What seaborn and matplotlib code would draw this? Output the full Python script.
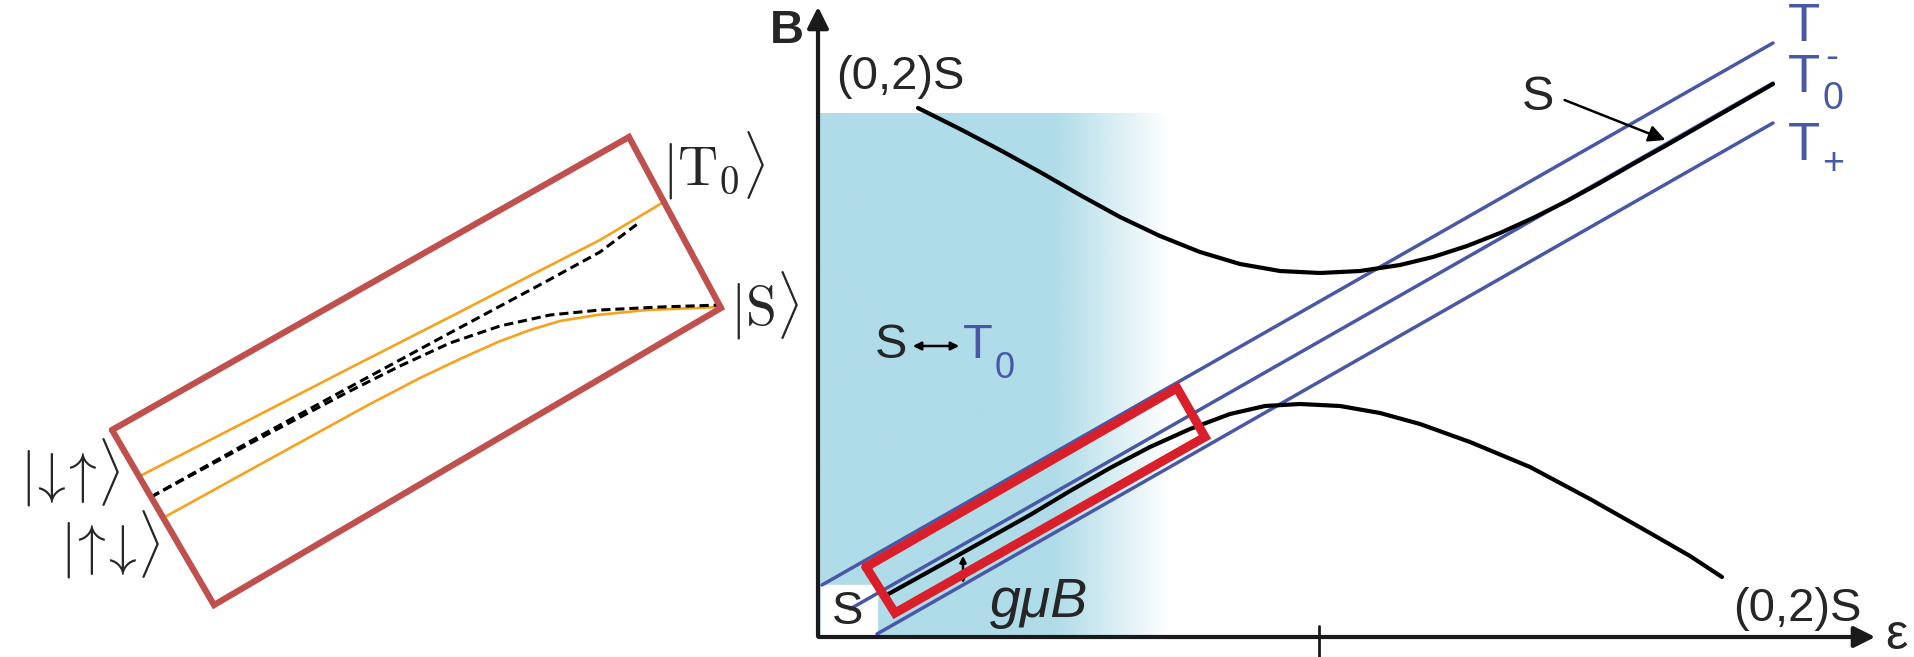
import numpy as np
import matplotlib
matplotlib.use('Agg')
import matplotlib.pyplot as plt
import seaborn as sns

# ---- left panel: rotated box with the two branches (pixel coords of the picture) ----
box_x = [112, 629, 721, 214, 112]
box_y = [430, 137, 308, 605, 430]

orange_up_x = [140, 249, 348, 448, 547, 600, 662]
orange_up_y = [476, 420, 369, 318, 267, 240, 203]
orange_lo_x = [163, 230, 299, 370, 420, 460, 498, 530, 560, 597, 647, 721]
orange_lo_y = [518, 481, 443, 404, 378, 359, 342, 330, 321, 315, 310, 307]

dash_up_x = [151, 249, 348, 448, 547, 600, 640]
dash_up_y = [497, 442, 388, 334, 281, 252, 222]
dash_lo_x = [151, 249, 348, 400, 450, 500, 550, 600, 660, 721]
dash_lo_y = [497, 444, 392, 366, 343, 326, 315, 310, 307, 305]

# ---- right panel: energy diagram ----
tminus_x, tminus_y = [822, 1773], [585, 43]
tzero_x, tzero_y = [850, 1773], [609, 83]
tplus_x, tplus_y = [877, 1773], [634, 123]

s_upper_x = [918, 960, 1000, 1040, 1080, 1120, 1160, 1200, 1240, 1280, 1320, 1360,
             1400, 1433, 1467, 1500, 1533, 1567, 1600, 1633, 1667, 1700, 1733, 1773]
s_upper_y = [108, 129, 150, 172, 195, 217, 236, 252, 264, 271, 273, 271,
             265, 257, 246, 233, 218, 201, 183, 164, 145, 126, 107, 84]

s_lower_x = [883, 930, 980, 1030, 1070, 1110, 1150, 1190, 1230, 1265, 1300, 1340,
             1380, 1420, 1470, 1530, 1590, 1650, 1690, 1722]
s_lower_y = [597, 571, 543, 515, 491, 468, 447, 429, 414, 406, 404, 406,
             413, 424, 442, 467, 499, 533, 556, 577]

red_x = [866, 1177, 1205, 895, 866]
red_y = [567, 388, 437, 613, 567]

W, H = 1915, 657
fig = plt.figure(figsize=(W / 100, H / 100), dpi=100)
ax = fig.add_axes([0, 0, 1, 1])
sns.set_style('white')
plt.rcParams['font.family'] = ['Liberation Sans', 'DejaVu Sans']
plt.rcParams['mathtext.fontset'] = 'cm'

# blue shaded region fading to white
gx = np.linspace(818, 1175, 500)
alpha = np.clip((1170 - gx) / (1170 - 1055), 0, 1)
img = np.zeros((1, len(gx), 4))
img[..., :3] = matplotlib.colors.to_rgb('#afdce8')
img[0, :, 3] = alpha
ax.imshow(img, extent=(818, 1175, 637, 113), aspect='auto', interpolation='bilinear', zorder=0)
ax.add_patch(plt.Rectangle((821, 585), 56, 52, color='white', zorder=1))

# left panel
sns.lineplot(x=box_x, y=box_y, sort=False, estimator=None, ax=ax, color='#c0504d', linewidth=4.5,
             solid_joinstyle='miter', zorder=3)
sns.lineplot(x=orange_up_x, y=orange_up_y, sort=False, estimator=None, ax=ax, color='#f7a21b', linewidth=1.9, zorder=2)
sns.lineplot(x=orange_lo_x, y=orange_lo_y, sort=False, estimator=None, ax=ax, color='#f7a21b', linewidth=1.9, zorder=2)
ax.plot(dash_up_x, dash_up_y, color='black', linewidth=2.2, dashes=(3, 1.6), zorder=2)
ax.plot(dash_lo_x, dash_lo_y, color='black', linewidth=2.2, dashes=(3, 1.6), zorder=2)

ax.text(714, 166, r'$|\mathrm{T}_0\rangle$', fontsize=40, ha='center', va='center')
ax.text(764, 306, r'$|\mathrm{S}\rangle$', fontsize=40, ha='center', va='center')
ax.text(70, 473, r'$|\!\downarrow\!\!\uparrow\!\rangle$', fontsize=40, ha='center', va='center')
ax.text(110, 545, r'$|\!\uparrow\!\!\downarrow\!\rangle$', fontsize=40, ha='center', va='center')

# right panel lines
blue = '#4858a6'
for lx, ly in [(tminus_x, tminus_y), (tzero_x, tzero_y), (tplus_x, tplus_y)]:
    sns.lineplot(x=lx, y=ly, sort=False, estimator=None, ax=ax, color=blue, linewidth=2.5, zorder=2)
sns.lineplot(x=s_upper_x, y=s_upper_y, sort=False, estimator=None, ax=ax, color='black', linewidth=3, zorder=3)
sns.lineplot(x=s_lower_x, y=s_lower_y, sort=False, estimator=None, ax=ax, color='black', linewidth=3, zorder=3)
sns.lineplot(x=red_x, y=red_y, sort=False, estimator=None, ax=ax, color='#d9202a', linewidth=6.5,
             solid_joinstyle='miter', zorder=4)

# axes arrows
ax.annotate('', xy=(818, 4), xytext=(818, 639),
            arrowprops=dict(arrowstyle='-|>', lw=3, color='#1a1a1a', mutation_scale=32), zorder=5)
ax.annotate('', xy=(1878, 637), xytext=(816, 637),
            arrowprops=dict(arrowstyle='-|>', lw=3, color='#1a1a1a', mutation_scale=32), zorder=5)
ax.plot([1319, 1319], [626, 657], color='#1a1a1a', linewidth=2)

# labels
ax.text(787, 31, 'B', fontsize=34, fontweight='bold', ha='center', va='center')
ax.text(1896, 636, 'ε', fontsize=36, ha='center', va='center')
ax.text(836, 77, '(0,2)S', fontsize=34, ha='left', va='center')
ax.text(1733, 609, '(0,2)S', fontsize=34, ha='left', va='center')
ax.text(848, 612, 'S', fontsize=34, ha='center', va='center')
ax.text(990, 603, 'gμB', fontsize=40, style='italic', ha='left', va='center')
ax.annotate('', xy=(963, 553), xytext=(963, 586),
            arrowprops=dict(arrowstyle='<|-|>', lw=1.8, color='black', mutation_scale=9))

ax.text(891, 346, 'S', fontsize=35, ha='center', va='center')
ax.annotate('', xy=(962, 346), xytext=(910, 346),
            arrowprops=dict(arrowstyle='<|-|>', lw=1.8, color='black', mutation_scale=12))
ax.text(978, 346, 'T', fontsize=35, color=blue, ha='center', va='center')
ax.text(1005, 368, '0', fontsize=26, color=blue, ha='center', va='center')

ax.text(1538, 97, 'S', fontsize=35, ha='center', va='center')
ax.annotate('', xy=(1668, 141), xytext=(1562, 99),
            arrowprops=dict(arrowstyle='-|>', lw=1.8, color='black', mutation_scale=25))

ax.text(1804, 27, 'T', fontsize=38, color=blue, ha='center', va='center')
ax.text(1832, 58, '-', fontsize=28, color=blue, ha='center', va='center')
ax.text(1804, 78, 'T', fontsize=38, color=blue, ha='center', va='center')
ax.text(1833, 99, '0', fontsize=27, color=blue, ha='center', va='center')
ax.text(1804, 146, 'T', fontsize=38, color=blue, ha='center', va='center')
ax.text(1833, 164, '+', fontsize=27, color=blue, ha='center', va='center')

ax.set_xlim(0, W)
ax.set_ylim(H, 0)
ax.axis('off')
fig.savefig('out.png', dpi=100)
